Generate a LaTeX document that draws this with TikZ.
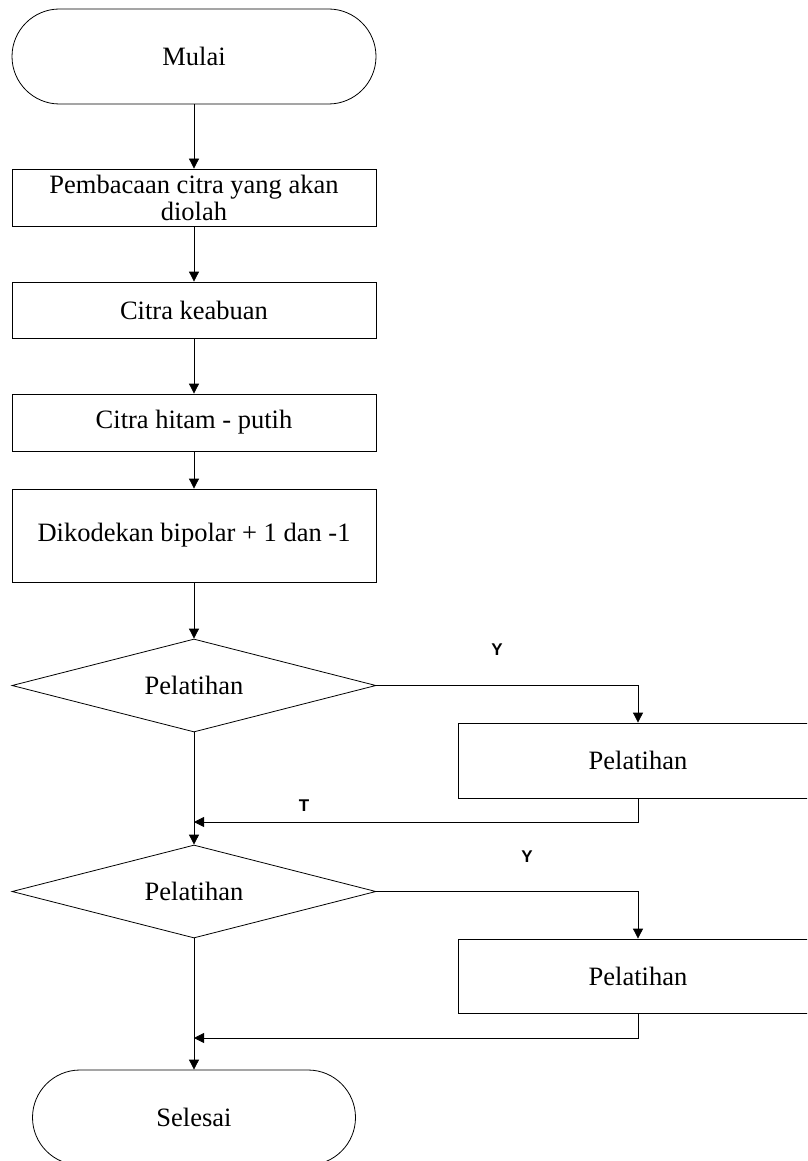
\documentclass[tikz,border=0pt]{standalone}
\usepackage{fontspec}
\setmainfont{Liberation Serif}
\newfontfamily\labelfont{Liberation Sans}
\usetikzlibrary{shapes.geometric,arrows.meta}
\begin{document}
\begin{tikzpicture}[x=1pt,y=-1pt,
  line width=0.8pt,
  txt/.style={font=\fontsize{26.5}{27}\selectfont, align=center, inner sep=0pt},
  term/.style={txt, draw, rectangle, rounded corners=47.5pt, minimum height=95pt},
  proc/.style={txt, draw, rectangle, minimum width=364pt},
  dec/.style={txt, draw, diamond, aspect=3.9, minimum width=364pt, minimum height=93pt},
  arr/.style={-{Triangle[length=10pt,width=10pt]}},
  lbl/.style={font=\labelfont\bfseries\fontsize{17}{17}\selectfont, inner sep=0pt}]
\useasboundingbox (0,0) rectangle (807,1161);
\begin{scope}
\clip (0,0) rectangle (807,1161);
\node[term, minimum width=364pt] (start) at (194,56.5) {Mulai};
\node[proc, minimum height=57pt] (r1) at (194,197.5) {Pembacaan citra yang akan\\diolah};
\node[proc, minimum height=56pt] (r2) at (194,310) {Citra keabuan};
\node[proc, minimum height=57pt] (r3) at (194,422.5) {Citra hitam - putih};
\node[proc, minimum height=93pt] (r4) at (194,535.5) {Dikodekan bipolar + 1 dan -1};
\node[dec] (d1) at (194,685.5) {Pelatihan};
\node[proc, minimum width=360pt, minimum height=75pt] (p1) at (638,760.5) {Pelatihan};
\coordinate (j1) at (194,822);
\node[dec] (d2) at (194,891.5) {Pelatihan};
\node[proc, minimum width=360pt, minimum height=74pt] (p2) at (638,976) {Pelatihan};
\coordinate (j2) at (194,1038);
\node[term, minimum width=323pt] (end) at (194,1117.5) {Selesai};

\draw[arr] (start.south) -- (r1.north);
\draw[arr] (r1.south) -- (r2.north);
\draw[arr] (r2.south) -- (r3.north);
\draw[arr] (r3.south) -- (r4.north);
\draw[arr] (r4.south) -- (d1.north);
\draw[arr] (d1.east) -| (p1.north);
\draw[arr] (p1.south) |- (j1);
\draw[arr] (d1.south) -- (d2.north);
\draw[arr] (d2.east) -| (p2.north);
\draw[arr] (p2.south) |- (j2);
\draw[arr] (d2.south) -- (end.north);

\node[lbl] (y1) at (497,650) {Y};
\node[lbl] (t1) at (304,806) {T};
\node[lbl] (y2) at (527,857) {Y};
\end{scope}
\end{tikzpicture}
\end{document}
